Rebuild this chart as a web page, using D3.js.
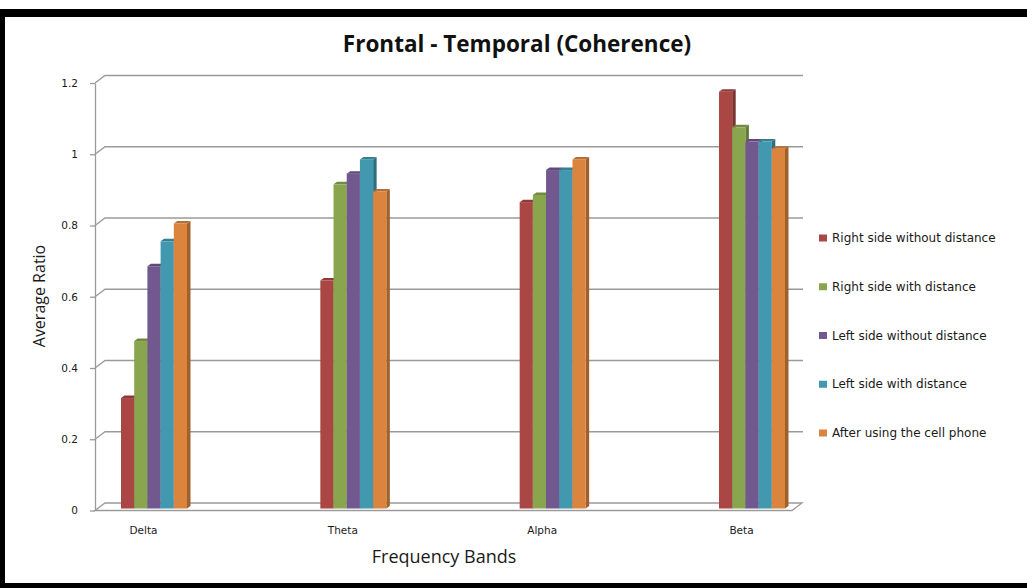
<!DOCTYPE html>
<html>
<head>
<meta charset="utf-8">
<script src="https://cdn.jsdelivr.net/npm/d3@7"></script>
<style>
  html, body { margin: 0; padding: 0; background: #fff; }
  svg { display: block; }
</style>
</head>
<body>
<svg id="chart" width="1027" height="588"></svg>
<script>
// Coherence ratios per frequency band
const categories = ["Delta", "Theta", "Alpha", "Beta"];
const seriesNames = [
  "Right side without distance",
  "Right side with distance",
  "Left side without distance",
  "Left side with distance",
  "After using the cell phone"
];
const rightNoDistance = [0.31, 0.64, 0.86, 1.17];
const rightDistance   = [0.47, 0.91, 0.88, 1.07];
const leftNoDistance  = [0.68, 0.94, 0.95, 1.03];
const leftDistance    = [0.75, 0.98, 0.95, 1.03];
const afterPhone      = [0.80, 0.89, 0.98, 1.01];
const yTicks = [0, 0.2, 0.4, 0.6, 0.8, 1, 1.2];
const colors = ["#AA4643", "#89A54E", "#71588F", "#4198AF", "#DB843D"];

const seriesValues = [rightNoDistance, rightDistance, leftNoDistance, leftDistance, afterPhone];

const svg = d3.select("#chart");

// frame
svg.append("rect").attr("x", 0).attr("y", 0).attr("width", 1027).attr("height", 588).attr("fill", "#fff");
svg.append("rect").attr("x", 0).attr("y", 9).attr("width", 1027).attr("height", 8).attr("fill", "#000");
svg.append("rect").attr("x", 0).attr("y", 9).attr("width", 5).attr("height", 579).attr("fill", "#000");
svg.append("rect").attr("x", 0).attr("y", 583).attr("width", 1027).attr("height", 5).attr("fill", "#000");

// plot geometry (front plane + depth offset of the 3D box)
const frontLeft = 95, frontRight = 792;
const depthX = 10, depthY = -7.5;
const y = d3.scaleLinear().domain([0, 1.2]).range([510.5, 83]);
const x0 = d3.scalePoint().domain(categories).range([154, 752]);
const x1 = d3.scaleBand().domain(seriesNames).range([-33, 33]).paddingInner(0);

const grid = svg.append("g").attr("stroke", "#9a9a9a").attr("stroke-width", 1.3).attr("fill", "none");

// floor
grid.append("path")
  .attr("d", `M${frontLeft},${y(0)} L${frontRight},${y(0)} L${frontRight + depthX},${y(0) + depthY} L${frontLeft + depthX},${y(0) + depthY} Z`)
  .attr("fill", "#fff");

// back-wall gridlines with side-wall diagonals
yTicks.filter(v => v > 0).forEach(v => {
  grid.append("path")
    .attr("d", `M${frontLeft},${y(v)} L${frontLeft + depthX},${y(v) + depthY} L${frontRight + depthX + 1},${y(v) + depthY}`);
});

// y axis on the front plane
const yAxis = svg.append("g")
  .attr("transform", `translate(${frontLeft},0)`)
  .call(d3.axisLeft(y).tickValues(yTicks).tickFormat(d3.format("~g")).tickSize(5).tickSizeOuter(0).tickPadding(12));
yAxis.select(".domain").attr("stroke", "#9a9a9a").attr("stroke-width", 1.3);
yAxis.selectAll(".tick line").attr("stroke", "#9a9a9a").attr("stroke-width", 1.3);
yAxis.selectAll(".tick text")
  .attr("font-family", "DejaVu Sans, sans-serif").attr("font-size", 10.5).attr("fill", "#1a1a1a");

// 3D columns
const barW = x1.bandwidth();
const sideX = 3.5, sideY = -2.5;
const bars = svg.append("g");
categories.forEach((cat, ci) => {
  seriesNames.forEach((name, si) => {
    const v = seriesValues[si][ci];
    const xl = x0(cat) + x1(name);
    const yt = y(v) - 2;
    const yb = y(0) - 2;
    const c = d3.color(colors[si]);
    // side face
    bars.append("path")
      .attr("d", `M${xl + barW},${yt} L${xl + barW + sideX},${yt + sideY} L${xl + barW + sideX},${yb + sideY} L${xl + barW},${yb} Z`)
      .attr("fill", c.darker(0.9));
    // top face
    bars.append("path")
      .attr("d", `M${xl},${yt} L${xl + sideX},${yt + sideY} L${xl + barW + sideX},${yt + sideY} L${xl + barW},${yt} Z`)
      .attr("fill", c.darker(0.5));
    // front face
    bars.append("rect")
      .attr("x", xl).attr("y", yt).attr("width", barW).attr("height", yb - yt)
      .attr("fill", c);
  });
});

// category labels
const xLabels = d3.scalePoint().domain(categories).range([143, 741]);
const xAxis = svg.append("g")
  .attr("transform", "translate(0,527)")
  .call(d3.axisBottom(xLabels).tickSize(0).tickPadding(0));
xAxis.select(".domain").remove();
xAxis.selectAll(".tick text")
  .attr("font-family", "DejaVu Sans, sans-serif").attr("font-size", 10.5).attr("fill", "#1a1a1a");

// titles
svg.append("text")
  .attr("x", 517).attr("y", 52)
  .attr("text-anchor", "middle")
  .attr("font-family", "Open Sans, sans-serif").attr("font-weight", "bold").attr("font-size", 22.5)
  .attr("fill", "#111")
  .text("Frontal - Temporal (Coherence)");

svg.append("text")
  .attr("x", 444).attr("y", 563)
  .attr("text-anchor", "middle")
  .attr("font-family", "Open Sans, sans-serif").attr("font-size", 18)
  .attr("fill", "#1a1a1a")
  .text("Frequency Bands");

svg.append("text")
  .attr("transform", "translate(45,296) rotate(-90)")
  .attr("text-anchor", "middle")
  .attr("font-family", "Open Sans, sans-serif").attr("font-size", 16)
  .attr("fill", "#1a1a1a")
  .text("Average Ratio");

// legend
const legend = svg.append("g");
const legendY = d3.scalePoint().domain(seriesNames).range([238, 433]);
seriesNames.forEach((name, i) => {
  legend.append("rect")
    .attr("x", 819).attr("y", legendY(name) - 3.5).attr("width", 8).attr("height", 7)
    .attr("fill", colors[i]);
  legend.append("text")
    .attr("x", 832).attr("y", legendY(name)).attr("dy", "0.35em")
    .attr("font-family", "DejaVu Sans, sans-serif").attr("font-size", 12)
    .attr("fill", "#1a1a1a")
    .text(name);
});
</script>
</body>
</html>
